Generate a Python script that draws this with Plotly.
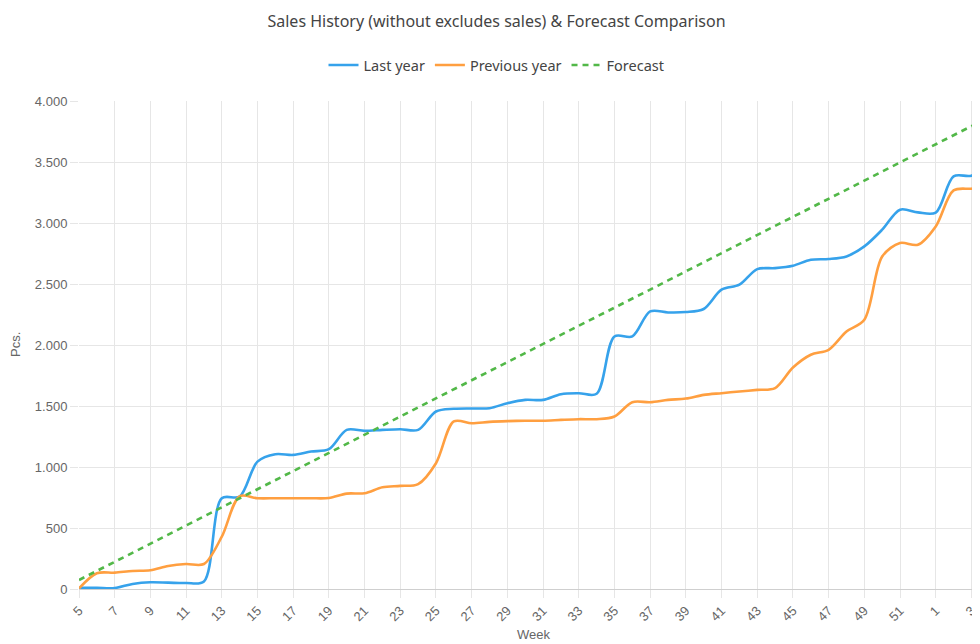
import plotly.graph_objects as go

weeks = [str(w) for w in list(range(5, 53)) + [1, 2, 3, 4]]

last_year = [10, 10, 8, 41, 55, 52, 49, 62, 744, 757, 1044, 1105, 1099, 1127, 1146,
             1304, 1296, 1304, 1310, 1304, 1455, 1477, 1480, 1482, 1523, 1550, 1550,
             1597, 1605, 1600, 2070, 2070, 2275, 2267, 2270, 2295, 2453, 2494, 2622,
             2630, 2650, 2699, 2705, 2726, 2808, 2945, 3109, 3087, 3085, 3382, 3388, 3480]

previous_year = [5, 129, 134, 148, 153, 189, 205, 205, 429, 760, 744, 744, 744, 744, 746,
                 782, 785, 834, 845, 860, 1031, 1373, 1359, 1370, 1376, 1379, 1379,
                 1386, 1392, 1392, 1414, 1531, 1531, 1550, 1561, 1591, 1605, 1619, 1632,
                 1646, 1815, 1920, 1961, 2111, 2207, 2726, 2836, 2822, 2972, 3267, 3281, 3295]

forecast = [74, 148, 223, 297, 372, 446, 520, 595, 669, 744, 818, 892, 967, 1041, 1116,
            1190, 1264, 1339, 1413, 1488, 1562, 1636, 1711, 1785, 1860, 1934, 2008,
            2083, 2157, 2232, 2306, 2380, 2455, 2529, 2604, 2678, 2752, 2827, 2901,
            2976, 3050, 3124, 3199, 3273, 3348, 3422, 3496, 3571, 3645, 3720, 3794, 3868]

y_ticks = [0, 500, 1000, 1500, 2000, 2500, 3000, 3500, 4000]

BLUE = "rgb(54,162,235)"
ORANGE = "rgb(255,159,64)"
GREEN = "rgb(82,184,72)"
GRID = "#e6e6e6"
TEXT = "#666666"

# page body has an 8px margin; figure coordinates = page coordinates - 8
OFF = 8
W, H = 980 - OFF, 644 - OFF
L, R, T, B = 79 - OFF, 0, 101 - OFF, (644 - OFF) - (589 - OFF)
PW, PH = W - L - R, H - T - B


def px(xp):
    return (xp - OFF - L) / PW


def py(yp):
    return (H - B - (yp - OFF)) / PH


fig = go.Figure()
fig.add_trace(go.Scatter(x=weeks, y=last_year, name="Last year", mode="lines",
                         line=dict(color=BLUE, width=2.6, shape="spline", smoothing=0.9)))
fig.add_trace(go.Scatter(x=weeks, y=previous_year, name="Previous year", mode="lines",
                         line=dict(color=ORANGE, width=2.6, shape="spline", smoothing=0.9)))
fig.add_trace(go.Scatter(x=weeks, y=forecast, name="Forecast", mode="lines",
                         line=dict(color=GREEN, width=2.6, dash="6px,5px")))

fig.update_layout(
    width=W, height=H,
    margin=dict(l=L, r=R, t=T, b=B, autoexpand=False),
    paper_bgcolor="white", plot_bgcolor="white",
    separators=",.",
    font=dict(family="Liberation Sans, Arial, sans-serif", color=TEXT, size=13),
    title=dict(text="Sales History (without excludes sales) & Forecast Comparison",
               x=(496.5 - OFF) / W, xanchor="center", y=1 - (21 - OFF) / H, yanchor="middle",
               font=dict(family="Noto Sans, sans-serif", size=16, color="#444444")),
    legend=dict(orientation="h", x=px(496.5), xanchor="center",
                y=py(65), yanchor="middle",
                font=dict(family="Noto Sans, sans-serif", size=14.5, color="#444444"),
                itemwidth=30, traceorder="normal"),
    showlegend=True,
    annotations=[
        dict(text="Week", xref="paper", yref="paper",
             x=px(533), y=py(634), xanchor="center", yanchor="middle",
             showarrow=False, font=dict(size=13, color=TEXT)),
        dict(text="Pcs.", xref="paper", yref="paper",
             x=px(15), y=py(345), xanchor="center", yanchor="middle",
             textangle=-90, showarrow=False, font=dict(size=13, color=TEXT)),
    ],
)

fig.update_xaxes(
    type="category", range=[0, 50.48], automargin=False,
    tickvals=weeks[::2], ticktext=weeks[::2],
    tickangle=-45, tickfont=dict(size=13, color=TEXT),
    showgrid=True, gridcolor=GRID, gridwidth=1,
    ticks="outside", ticklen=8, tickcolor=GRID,
    showline=True, linecolor="#cfcfcf", linewidth=1,
    zeroline=False,
)

fig.update_yaxes(
    range=[0, 4000], tickvals=y_ticks, tickformat=",d", automargin=False,
    tickfont=dict(size=13, color=TEXT),
    showgrid=True, gridcolor=GRID, gridwidth=1,
    ticks="outside", ticklen=8, tickcolor=GRID,
    showline=False, zeroline=False,
)

fig.write_html("out.html")
